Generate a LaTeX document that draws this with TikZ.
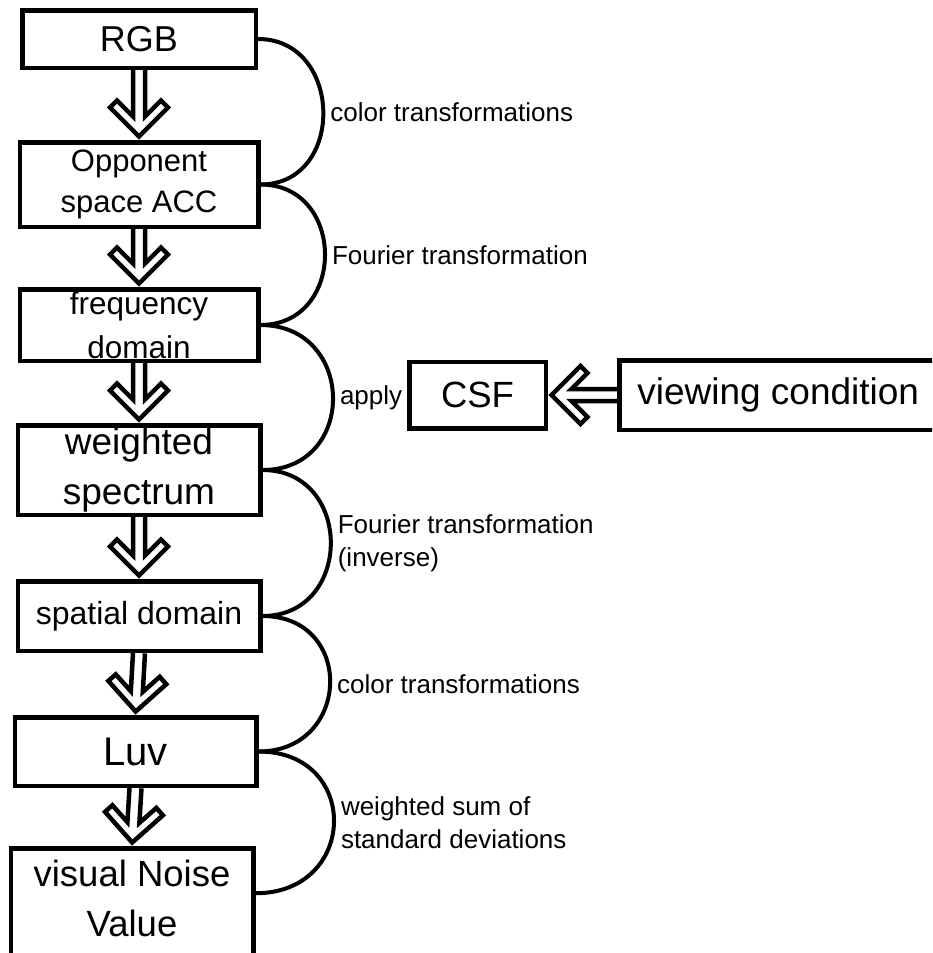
\documentclass[tikz,border=0pt]{standalone}
\usepackage{fontspec}
\setmainfont{Liberation Sans}
\usetikzlibrary{positioning, calc}

\begin{document}
\begin{tikzpicture}[x=1pt, y=1pt, node distance=60pt,
    box/.style={rectangle, draw, line width=4.5pt, inner sep=0pt, align=center},
    link/.style={line width=4pt},
    lbl/.style={font=\fontsize{26}{33}\selectfont, align=left, inner sep=5pt, anchor=west},
    hollow/.style={line width=4.5pt, line join=miter, to path={
        ($(\tikztostart)!6pt!-90:(\tikztotarget)$)
        -- ($($(\tikztotarget)!23.5pt!(\tikztostart)$)!6pt!-90:(\tikztotarget)$)
        -- ($($(\tikztotarget)!39.5pt!(\tikztostart)$)!22pt!-90:(\tikztotarget)$)
        -- ($($(\tikztotarget)!32.5pt!(\tikztostart)$)!29pt!-90:(\tikztotarget)$)
        -- ($(\tikztotarget)!3.5pt!(\tikztostart)$)
        -- ($($(\tikztotarget)!32.5pt!(\tikztostart)$)!29pt!90:(\tikztotarget)$)
        -- ($($(\tikztotarget)!39.5pt!(\tikztostart)$)!22pt!90:(\tikztotarget)$)
        -- ($($(\tikztotarget)!23.5pt!(\tikztostart)$)!6pt!90:(\tikztotarget)$)
        -- ($(\tikztostart)!6pt!90:(\tikztotarget)$)}}]

    \clip (0,0) rectangle (932,-953);

    \node[box, minimum width=233.5pt, minimum height=57.5pt, font=\fontsize{36}{40}\selectfont] (rgb) at (139,-39) {RGB};
    \node[box, below=70pt of rgb, minimum width=238.5pt, minimum height=84.5pt, font=\fontsize{31}{41}\selectfont] (opp) {Opponent\\space ACC};
    \node[box, below=58pt of opp, minimum width=238.5pt, minimum height=71.5pt, font=\fontsize{31.5}{44}\selectfont] (freq) {frequency\\domain};
    \node[box, below=of freq, minimum width=242.5pt, minimum height=89.5pt, font=\fontsize{37}{50}\selectfont] (wspec) {weighted\\spectrum};
    \node[box, below=62pt of wspec, minimum width=242.5pt, minimum height=69.5pt, font=\fontsize{32}{40}\selectfont] (spat) {spatial domain};
    \node[box, below=62pt of spat, xshift=-3.5pt, minimum width=241.5pt, minimum height=68.5pt, font=\fontsize{40}{44}\selectfont] (luv) {Luv};
    \node[box, below=58pt of luv, xshift=-3.5pt, minimum width=242.5pt, minimum height=110pt, text depth=10pt, font=\fontsize{36.5}{50}\selectfont] (vnv) {visual Noise\\Value};
    \node[box, minimum width=136.5pt, minimum height=66.5pt, font=\fontsize{36.5}{40}\selectfont] (csf) at (477.5,-395) {CSF};
    \node[box, right=69pt of csf, minimum width=318pt, minimum height=69.5pt, font=\fontsize{37}{40}\selectfont] (view) {viewing condition};

    \draw[hollow] (rgb.south) to (opp.north);
    \draw[hollow] (opp.south) to (freq.north);
    \draw[hollow] (freq.south) to (wspec.north);
    \draw[hollow] (wspec.south) to (spat.north);
    \draw[hollow] (spat.south) to (luv.north);
    \draw[hollow] (luv.south) to (vnv.north);
    \draw[hollow] (view.west) to (csf.east);

    \draw[link] (rgb.east) to[out=0, in=0, looseness=1.5] node[lbl] {color transformations} (opp.east);
    \draw[link] (opp.east) to[out=0, in=0, looseness=1.57] node[lbl] {Fourier transformation} (freq.east);
    \draw[link] (freq.east) to[out=0, in=0, looseness=1.68] node[lbl] {apply} (wspec.east);
    \draw[link] (wspec.east) to[out=0, in=0, looseness=1.6] node[lbl] {Fourier transformation\\(inverse)} (spat.east);
    \draw[link] (spat.east) to[out=0, in=0, looseness=1.75] node[lbl] {color transformations} (luv.east);
    \draw[link] (luv.east) to[out=0, in=0, looseness=1.85] node[lbl] {weighted sum of\\standard deviations} ([yshift=10pt]vnv.east);

\end{tikzpicture}
\end{document}
